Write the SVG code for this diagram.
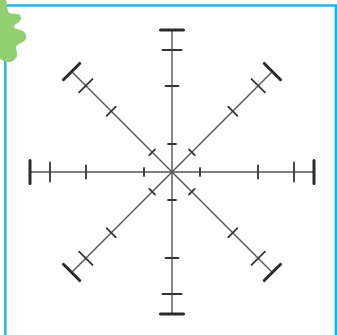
<svg xmlns="http://www.w3.org/2000/svg" xmlns:xlink="http://www.w3.org/1999/xlink" width="337" height="335" viewBox="0 0 337 335">
  <style>
    .axis { stroke: #555; stroke-width: 1.4; stroke-linecap: round; }
    .tk { stroke: #333; stroke-width: 1.8; stroke-linecap: round; }
    .cap { stroke: #2a2a2a; stroke-width: 3; stroke-linecap: round; }
    .frame { fill: none; stroke: #19b2ee; stroke-width: 2.4; }
    .blob { fill: #93ce73; }
  </style>
  <defs>
    <g id="arm">
      <line class="axis" x1="0" y1="0" x2="0" y2="-142"/>
      <line class="tk" x1="-4" y1="-28" x2="4" y2="-28"/>
      <line class="tk" x1="-6.5" y1="-86" x2="6.5" y2="-86"/>
      <line class="tk" x1="-9.5" y1="-122" x2="9.5" y2="-122"/>
      <line class="cap" x1="-11.5" y1="-142" x2="11.5" y2="-142"/>
    </g>
  </defs>
  <rect width="337" height="335" fill="#ffffff"/>
  <rect class="frame" x="5.3" y="5.5" width="330.5" height="340"/>
  <g id="connectors" transform="translate(172 172)">
    <use xlink:href="#arm" transform="rotate(0)"/>
    <use xlink:href="#arm" transform="rotate(45)"/>
    <use xlink:href="#arm" transform="rotate(90)"/>
    <use xlink:href="#arm" transform="rotate(135)"/>
    <use xlink:href="#arm" transform="rotate(180)"/>
    <use xlink:href="#arm" transform="rotate(225)"/>
    <use xlink:href="#arm" transform="rotate(270)"/>
    <use xlink:href="#arm" transform="rotate(315)"/>
  </g>
  <path class="blob" d="M0,0 L6,0 C8,5 6,11 10,13 C14,15 20,12 21,17 C22,23 14,23 14,27 C14,30 24,28 26,35 C28,43 18,42 16,47 C15,50 18,52 17,56 C15,62 7,64 2,60 L0,59 Z"/>
</svg>
